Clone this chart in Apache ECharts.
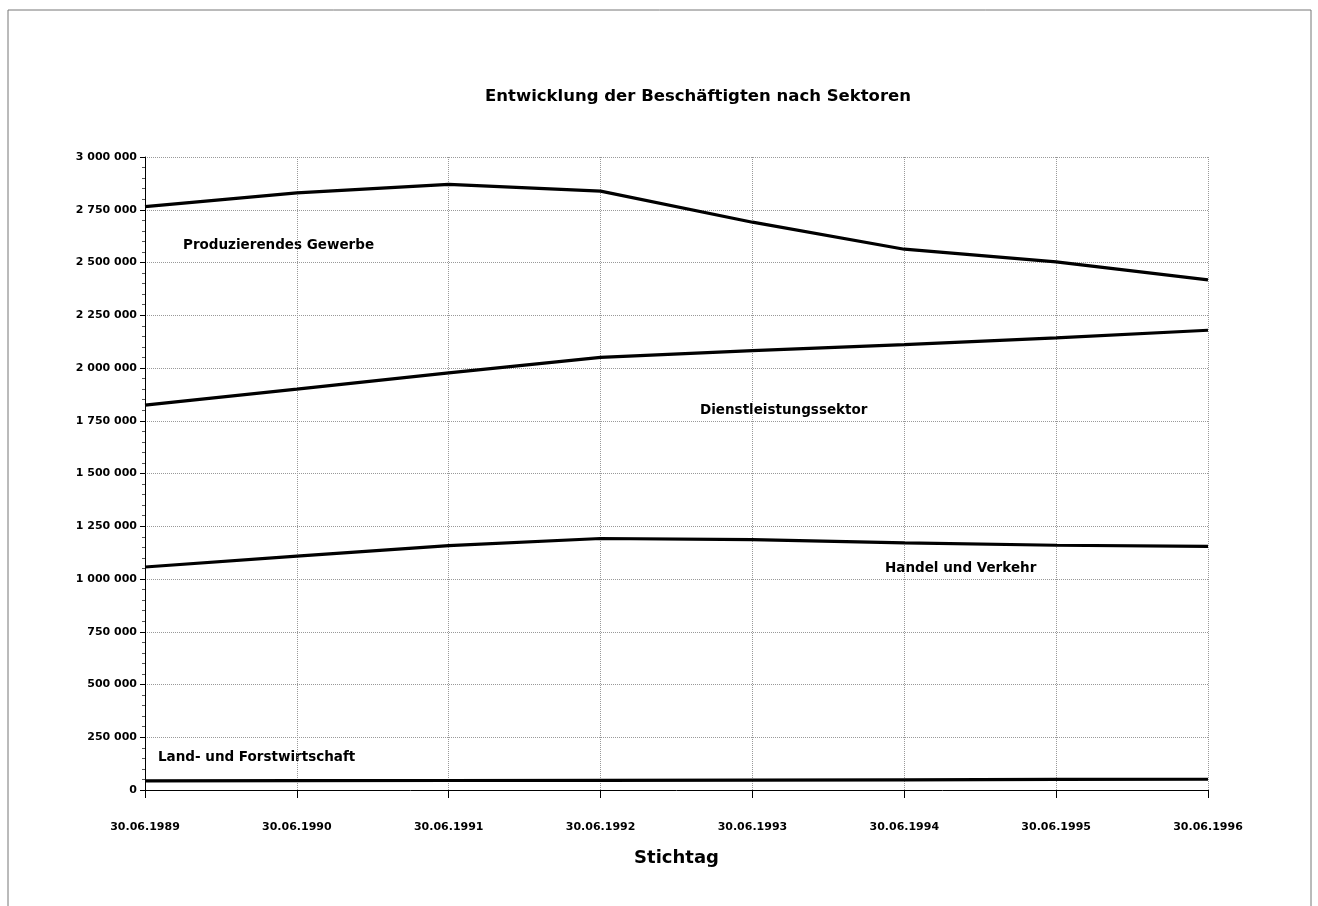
<!DOCTYPE html>
<html>
<head>
<meta charset="utf-8">
<script src="https://cdn.jsdelivr.net/npm/echarts@6/dist/echarts.min.js"></script>
<style>
html,body{margin:0;padding:0;background:#fff;}
#c{width:1318px;height:906px;}
</style>
</head>
<body>
<div id="c"></div>
<script>
var categories = ['30.06.1989','30.06.1990','30.06.1991','30.06.1992','30.06.1993','30.06.1994','30.06.1995','30.06.1996'];
var produzierendes = [2765000, 2830000, 2870000, 2838000, 2691000, 2563000, 2503000, 2418000];
var dienstleistung = [1824000, 1900000, 1977000, 2050000, 2082000, 2111000, 2143000, 2179000];
var handel = [1057000, 1108000, 1158000, 1192000, 1187000, 1171000, 1160000, 1155000];
var land = [43000, 44000, 45000, 46000, 47000, 48000, 50000, 51000];
var seriesNames = ['Produzierendes Gewerbe','Dienstleistungssektor','Handel und Verkehr','Land- und Forstwirtschaft'];

var font = '"DejaVu Sans", Arial, sans-serif';
var lblFont = 'bold 13.5px "DejaVu Sans", Arial, sans-serif';
function fmt(v){ return String(v).replace(/\B(?=(\d{3})+(?!\d))/g, ' '); }
function line(name, data){
  return {name:name, type:'line', data:data, symbol:'none', smooth:false,
    lineStyle:{color:'#000', width:3.2}, itemStyle:{color:'#000'}, z:3};
}
var chart = echarts.init(document.getElementById('c'));
chart.setOption({
  backgroundColor:'#fff',
  animation:false,
  title:{text:'Entwicklung der Beschäftigten nach Sektoren', left:693, top:83, textAlign:'center',
    textStyle:{fontFamily:font, fontSize:16.5, fontWeight:'bold', color:'#000'}},
  grid:{left:145, right:110, top:157, bottom:116},
  xAxis:{type:'category', data:categories, boundaryGap:false,
    name:'Stichtag', nameLocation:'middle', nameGap:59,
    nameTextStyle:{fontFamily:font, fontSize:18, fontWeight:'bold', color:'#000'},
    axisLine:{lineStyle:{color:'#000', width:1}},
    axisTick:{show:true, length:8, lineStyle:{color:'#000'}},
    axisLabel:{fontFamily:font, fontSize:11, fontWeight:'bold', color:'#000', margin:32},
    splitLine:{show:true, lineStyle:{type:'dotted', color:'#999', width:1}}},
  yAxis:{type:'value', min:0, max:3000000, interval:250000,
    axisLine:{show:true, lineStyle:{color:'#000', width:1}},
    axisTick:{show:true, length:5, lineStyle:{color:'#000'}},
    minorTick:{show:true, splitNumber:5, length:3, lineStyle:{color:'#555'}},
    axisLabel:{fontFamily:font, fontSize:11, fontWeight:'bold', color:'#000', margin:8, formatter:fmt},
    splitLine:{show:true, lineStyle:{type:'dotted', color:'#999', width:1}}},
  series:[line(seriesNames[0], produzierendes), line(seriesNames[1], dienstleistung),
          line(seriesNames[2], handel), line(seriesNames[3], land)],
  graphic:[
    {type:'line', shape:{x1:8,y1:10,x2:1311,y2:10}, style:{stroke:'#777', lineWidth:1}},
    {type:'line', shape:{x1:8,y1:10,x2:8,y2:906}, style:{stroke:'#777', lineWidth:1}},
    {type:'line', shape:{x1:1311,y1:10,x2:1311,y2:906}, style:{stroke:'#777', lineWidth:1}},
    {type:'text', left:183, top:238, style:{text:seriesNames[0], font:lblFont, fill:'#000'}},
    {type:'text', left:700, top:403, style:{text:seriesNames[1], font:lblFont, fill:'#000'}},
    {type:'text', left:885, top:561, style:{text:seriesNames[2], font:lblFont, fill:'#000'}},
    {type:'text', left:158, top:750, style:{text:seriesNames[3], font:lblFont, fill:'#000'}}
  ]
});
</script>
</body>
</html>
